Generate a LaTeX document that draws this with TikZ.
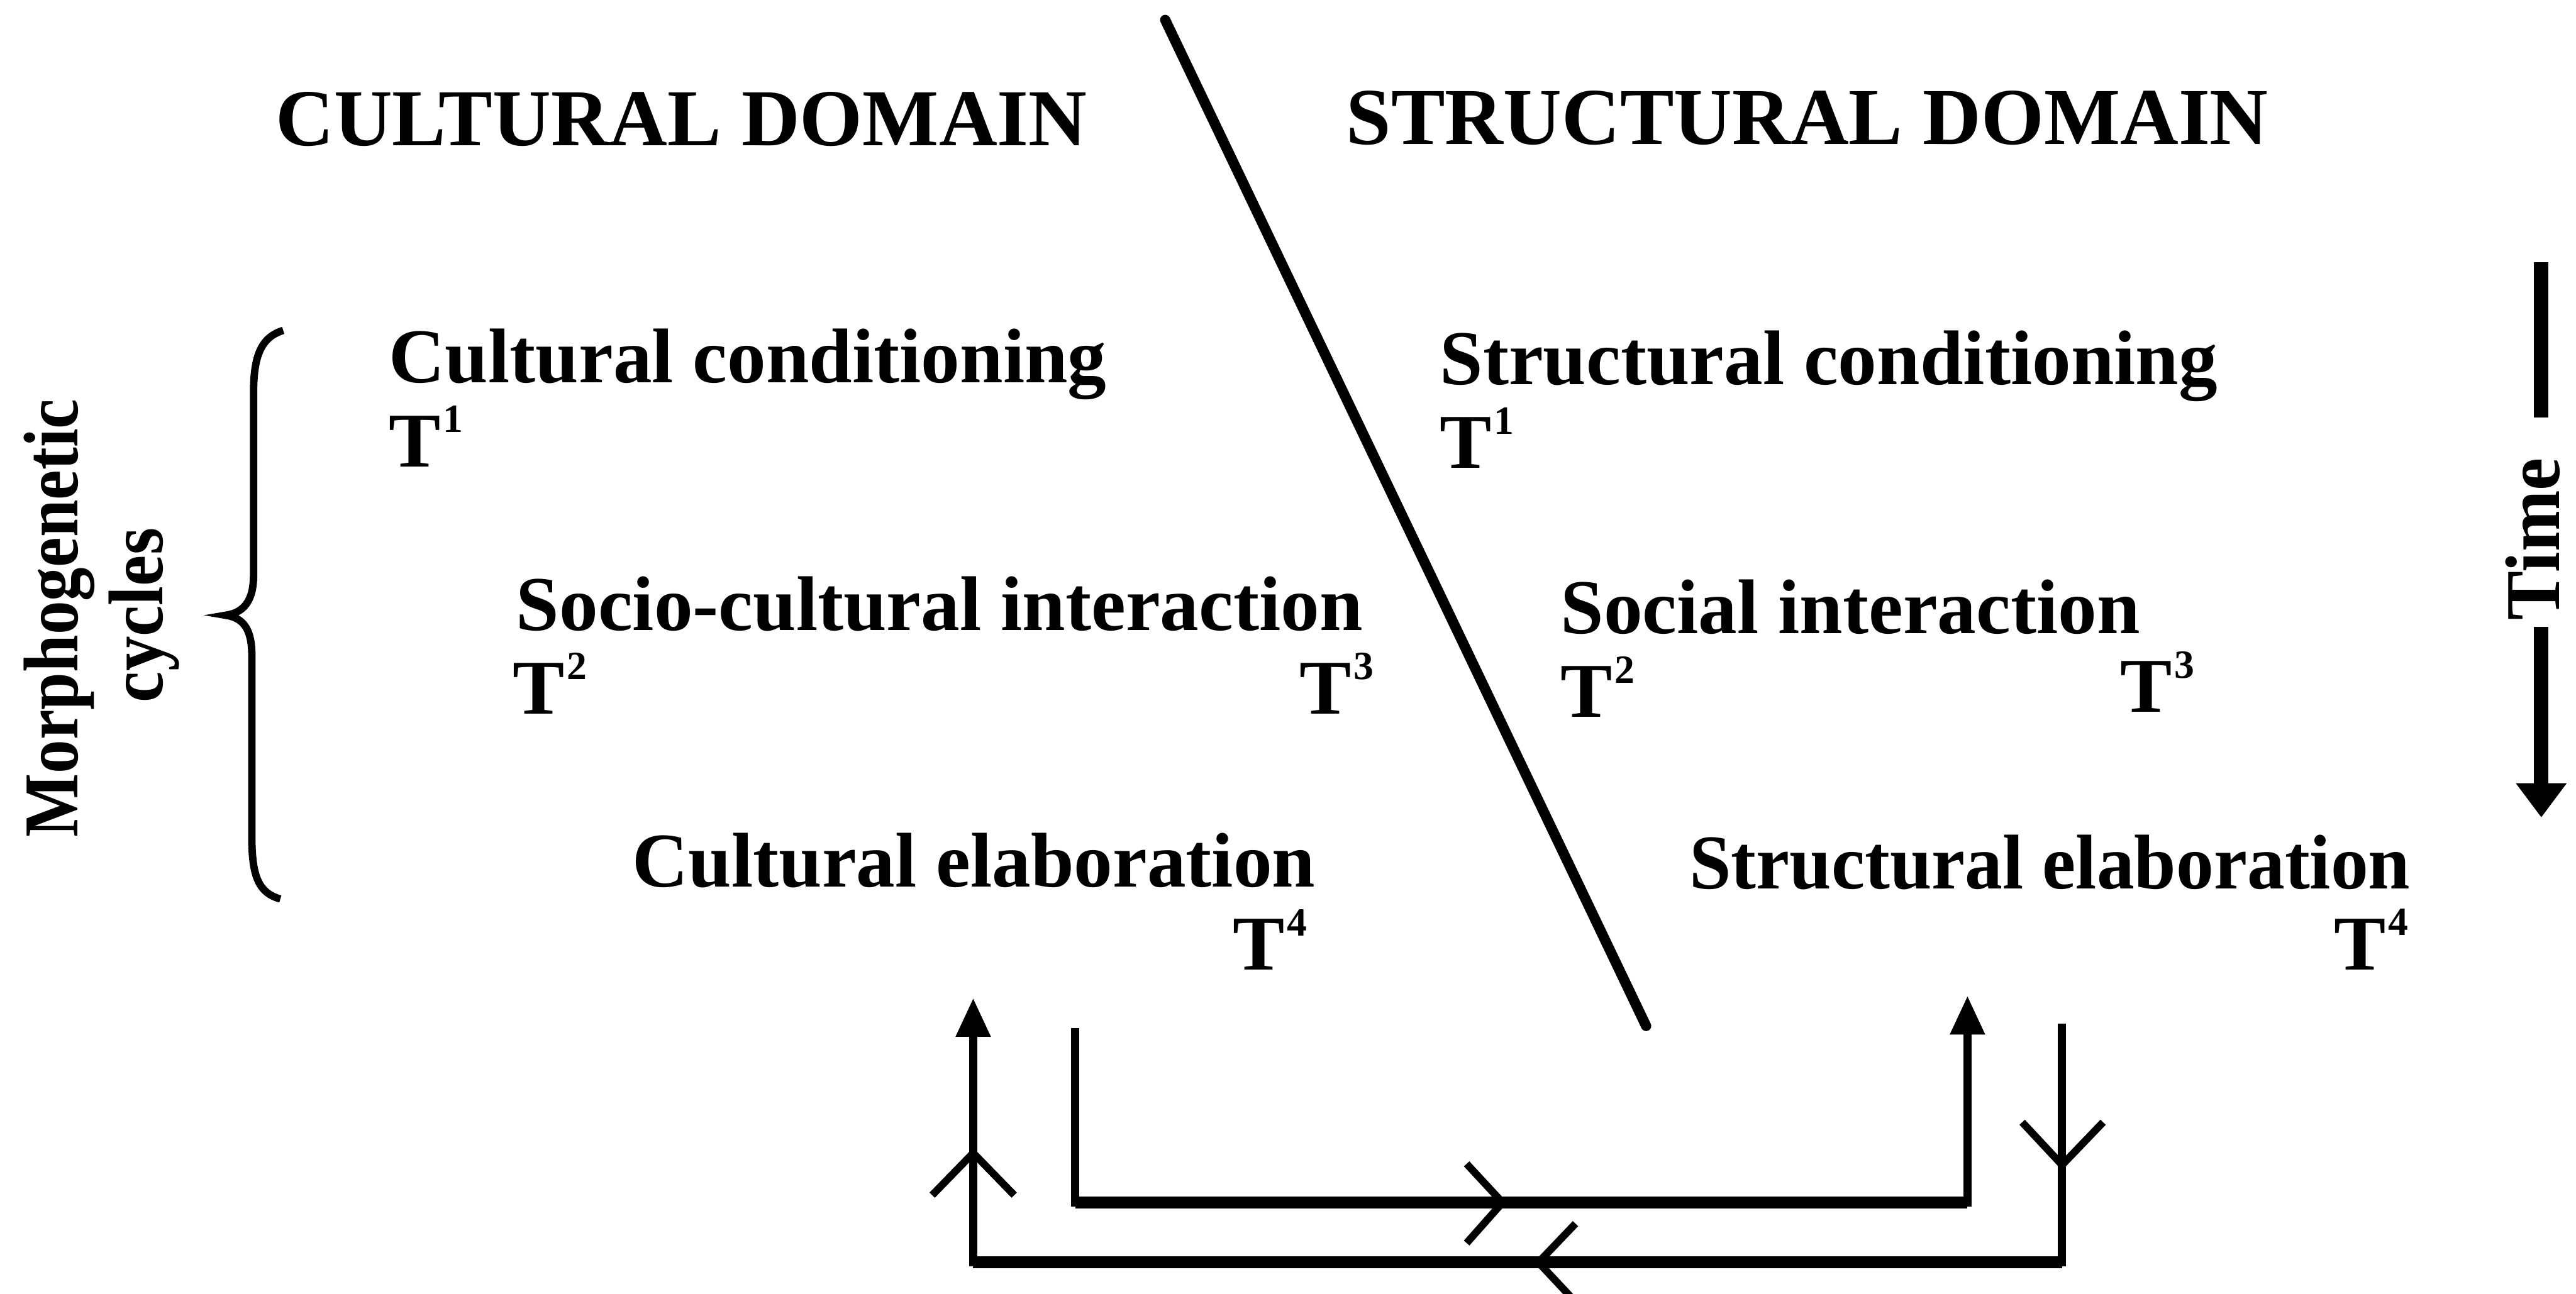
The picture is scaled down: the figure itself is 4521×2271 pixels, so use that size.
\documentclass[tikz,border=0pt]{standalone}
\usepackage{fontspec}
\usepackage{graphicx}
\setmainfont{Liberation Serif}
\usetikzlibrary{arrows.meta}
\newcommand\Tsup[1]{T\kern0.04cm\raisebox{0.6cm}{\fontsize{20pt}{20pt}\selectfont #1}}
\begin{document}
\begin{tikzpicture}[x=0.01cm,y=-0.01cm,
  lbl/.style={inner sep=0pt,outer sep=0pt,anchor=base west,font=\fontsize{38.7pt}{46pt}\selectfont\bfseries},
  head/.style={lbl,font=\fontsize{40.3pt}{48pt}\selectfont\bfseries},
  lble/.style={lbl,anchor=base east},
  rot/.style={lbl,anchor=base,rotate=90},
  vline/.style={line width=0.14cm,line join=miter},
  hline/.style={line width=0.21cm,line cap=butt},
  chev/.style={line width=0.13cm,line join=miter},
  headA/.style={-{Triangle[length=0.68cm,width=0.58cm]}},
  divider/.style={line width=0.18cm,line cap=round},
  bracepath/.style={line width=0.13cm},
  timebar/.style={line width=0.25cm}]
\fill[white] (0,0) rectangle (4521,2271);
\path[use as bounding box] (0,0) rectangle (4521,2271);

% headings
\node[head] (cd) at (484,255) {CULTURAL DOMAIN};
\node[head] (sd) at (2363,253) {STRUCTURAL DOMAIN};

% cultural side
\node[lbl] (cc) at (683,672) {Cultural conditioning};
\node[lbl] (cT1) at (683,819) {\Tsup{1}};
\node[lbl] (sci) at (906,1106) {Socio-cultural interaction};
\node[lbl] (cT2) at (900,1253) {\Tsup{2}};
\node[lble] (cT3) at (2411,1253) {\Tsup{3}};
\node[lbl] (ce) at (1110,1557) {Cultural elaboration};
\node[lble] (cT4) at (2294,1703) {\Tsup{4}};

% structural side
\node[lbl] (sc) at (2527,675) {Structural conditioning};
\node[lbl] (sT1) at (2527,822) {\Tsup{1}};
\node[lbl] (si) at (2739,1112) {Social interaction};
\node[lbl] (sT2) at (2739,1259) {\Tsup{2}};
\node[lble] (sT3) at (3851,1250) {\Tsup{3}};
\node[lbl] (se) at (2965,1560) {\scalebox{0.97}[1]{Structural elaboration}};
\node[lble] (sT4) at (4227,1702) {\Tsup{4}};

% side labels
\node[rot] (morph) at (136,1085) {\scalebox{0.87}[1]{Morphogenetic}};
\node[rot] (cyc) at (285,1080) {\scalebox{0.9}[1]{cycles}};
\node[rot] (time) at (4492,946) {\scalebox{0.95}[1]{Time}};

% brace
\draw[bracepath] (497,580) .. controls (458,592) and (445,625) .. (445,690) -- (445,1010)
  .. controls (445,1058) and (425,1076) .. (396,1080)
  .. controls (425,1084) and (442,1102) .. (442,1150) -- (442,1470)
  .. controls (442,1540) and (455,1568) .. (492,1578);

% diagonal divider
\coordinate (dTop) at (2045,35);
\coordinate (dBot) at (2889,1801);
\draw[divider] (dTop) -- (dBot);

% time arrow
\coordinate (tA) at (4460,460);
\coordinate (tB) at (4460,733);
\coordinate (tC) at (4460,1100);
\coordinate (tD) at (4460,1435);
\draw[timebar] (tA) -- (tB);
\draw[timebar,-{Triangle[length=0.6cm,width=0.85cm]}] (tC) -- (tD);

% inner loop (culture -> structure)
\coordinate (iL) at (1887,1805);
\coordinate (iLb) at (1887,2111);
\coordinate (iRb) at (3453,2111);
\coordinate (iR) at (3453,1748);
\draw[vline,headA] (iL) -- (iLb) -- (iRb) -- (iR);
\draw[hline] (iLb) -- (iRb);
\draw[chev] (2574,2043) -- (2637,2111) -- (2574,2182);

% outer loop (structure -> culture)
\coordinate (oR) at (3619,1797);
\coordinate (oRb) at (3619,2216);
\coordinate (oLb) at (1708,2216);
\coordinate (oL) at (1708,1752);
\draw[vline,headA] (oR) -- (oRb) -- (oLb) -- (oL);
\draw[hline] (oRb) -- (oLb);
\draw[chev] (2765,2148) -- (2700,2216) -- (2760,2280);
\draw[chev] (1636,2098) -- (1708,2024) -- (1780,2098);
\draw[chev] (3549,1970) -- (3619,2045) -- (3691,1970);
\end{tikzpicture}
\end{document}
